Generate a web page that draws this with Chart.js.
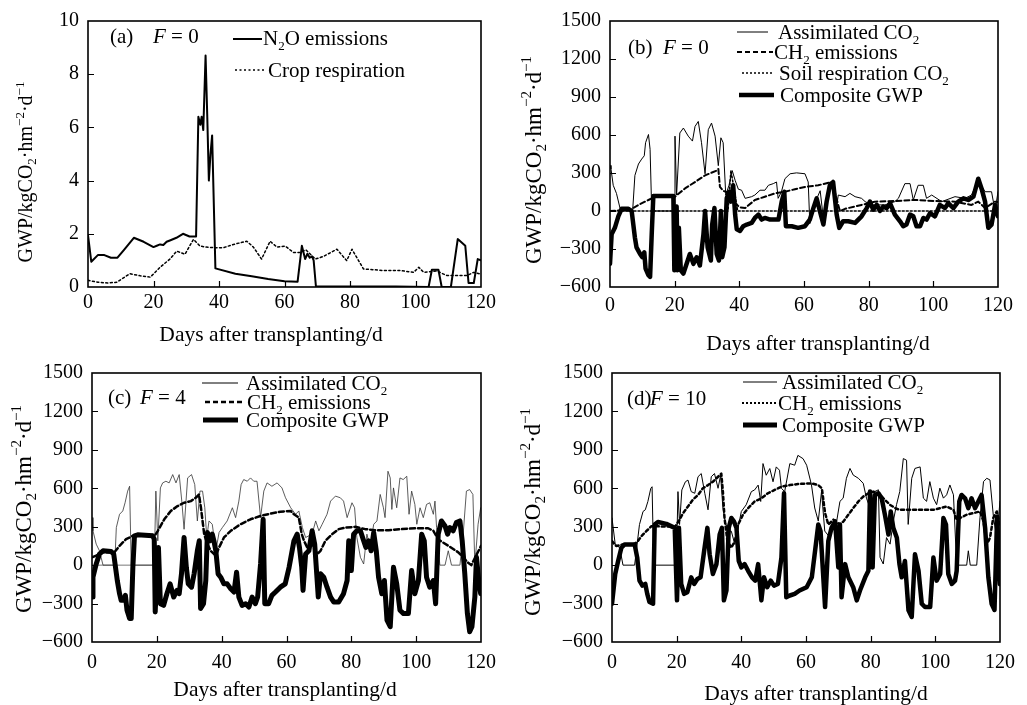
<!DOCTYPE html>
<html><head><meta charset="utf-8">
<script src="https://cdn.jsdelivr.net/npm/chart.js@4.4.0/dist/chart.umd.min.js"></script>
<style>
html,body{margin:0;padding:0;background:#fff;width:1027px;height:705px;overflow:hidden}
canvas{position:absolute}
</style></head><body>
<canvas id="ca"></canvas><canvas id="cb"></canvas><canvas id="cc"></canvas><canvas id="cd"></canvas>
<script>
// ---------------- DATA: [day, value] ----------------
const xTicks = [0,20,40,60,80,100,120];
// (a) F = 0
const aN2O = [[0,1.95],[1,0.95],[3,1.2],[5,1.2],[7,1.1],[9,1.1],[11,1.4],[14,1.85],[17,1.7],[20,1.5],[21,1.55],[22,1.6],[23,1.58],[24,1.7],[25,1.75],[27,1.85],[29,2.0],[31,1.9],[33,1.9],[33.7,6.4],[34.3,6.1],[34.7,6.4],[35.2,5.9],[35.9,8.7],[36.4,6.5],[36.9,4.0],[37.4,5.0],[37.9,5.7],[38.9,0.7],[45,0.5],[50,0.4],[55,0.3],[60,0.22],[64,0.2],[65.3,1.55],[66.3,1.05],[67,1.25],[67.7,1.1],[68.4,1.15],[68.9,1.0],[69.6,0.02],[94,0.02],[104,0],[105,0.65],[107,0.65],[108,0],[110.8,0],[112.9,1.8],[115.2,1.55],[116.2,0.15],[117.8,0.15],[119,1.05],[120,1.0]];
const aCrop = [[0,0.25],[3,0.18],[6,0.15],[8.8,0.18],[12.8,0.5],[16,0.42],[19,0.37],[22,0.74],[25,1.05],[27.1,1.35],[29.6,1.23],[32.2,1.79],[34.2,1.54],[36,1.5],[38.3,1.48],[41.4,1.48],[44.4,1.6],[48.5,1.72],[50.5,1.5],[53,1.05],[55.6,1.72],[57.7,1.5],[60.2,1.54],[62.7,1.3],[64.8,1.3],[66.5,1.4],[69.4,1.05],[71.9,1.15],[76,1.42],[79,0.99],[80.6,1.42],[82.1,1.1],[84.1,0.68],[90.2,0.62],[95.3,0.62],[99.4,0.55],[101,0.74],[102.5,0.55],[106.5,0.6],[109.6,0.43],[113.7,0.43],[115.7,0.43],[117.8,0.55],[119.8,0.49]];
// (b) F = 0
const bAssim = [[0,360],[0.3,332],[1,203],[2,139],[3.1,22],[3.3,0],[7,0],[7.7,281],[8.8,371],[9.8,410],[10.6,436],[11,539],[11.9,604],[12.4,487],[12.9,0],[19.8,0],[20.1,591],[20.6,126],[21.6,616],[22.7,655],[24.2,591],[25.5,552],[26.3,668],[27.3,707],[28.3,539],[29.4,294],[30.4,642],[31.4,694],[32.5,591],[33.5,358],[34.3,578],[35,539],[35.8,126],[36.8,203],[37.8,319],[38.7,242],[39.7,172],[40.7,164],[41.8,100],[43.8,113],[44.8,126],[46.4,164],[47.9,164],[49,203],[50.5,216],[51.5,229],[52,100],[53,150],[54.1,255],[55.7,294],[57.7,301],[60.3,294],[61.3,229],[61.8,-100],[63,30],[64,100],[65,160],[66,-60],[67,100],[68,230],[69,150],[70,20],[70.6,126],[72.7,113],[74.2,139],[75.8,113],[77.8,100],[78.9,74],[80.9,48],[85,48],[88.1,74],[89.2,100],[91.2,216],[92.8,216],[93.8,87],[95.3,203],[96.9,203],[97.9,100],[99.5,126],[102.6,74],[106.7,113],[109.8,100],[111.8,126],[113.9,242],[116,152],[118,152],[119.1,0],[120,152]];
const bCH = [[0,0],[6.2,10],[8.8,48],[11.9,87],[13.9,113],[20.1,113],[23.2,178],[26.3,229],[29.4,281],[33,319],[33.5,332],[34,190],[35,160],[36,150],[38,80],[40,30],[41.8,23],[44.8,87],[47.9,113],[51,139],[54.1,152],[57.2,172],[60.3,190],[64.4,203],[68.5,229],[69.5,150],[71.1,0],[72.7,17],[77.8,48],[82,74],[88.1,79],[94.3,87],[100.5,79],[106.7,74],[111.8,48],[113.9,74],[116,23],[119.1,74],[120,70]];
const bSoil = [[0,0],[36.5,0],[37.4,319],[38.2,200],[39.5,0],[120,0]];
const bGwp = [[0,-417],[0.5,-184],[1.5,-133],[2.6,-41],[3.6,17],[5.7,17],[6.7,0],[7.7,-210],[8.2,-287],[9.3,-339],[10,-365],[10.6,-326],[11,-455],[11.9,-507],[12.4,-520],[12.9,-184],[13.4,118],[19.6,118],[19.9,-468],[20.3,0],[20.6,35],[20.9,-468],[21.3,-133],[21.9,-468],[22.7,-494],[23.7,-417],[24.7,-339],[25.8,-417],[26.8,-365],[27.8,-430],[28.9,-184],[29.4,0],[30.2,-287],[31.2,-391],[31.6,-107],[32.3,23],[33,-339],[33.7,-391],[34.3,0],[34.7,-365],[35.4,-287],[36.1,100],[36.8,152],[37.4,74],[38.1,203],[38.7,-28],[39.2,-145],[40.2,-158],[41.2,-120],[42.3,-107],[43.8,-94],[44.8,-55],[45.9,-28],[46.9,-68],[47.9,-55],[49.5,-68],[51,-68],[52.1,-68],[53.1,74],[53.9,152],[54.4,-120],[56.2,-120],[58.2,-133],[60.3,-120],[61.8,-68],[62.9,23],[63.9,100],[64.9,0],[66,-107],[67,74],[68,203],[69,229],[70.1,-28],[70.9,-133],[72.1,-81],[73.7,-81],[75.8,-94],[77.8,-42],[79.4,23],[80.4,74],[81.4,10],[82.5,48],[83.5,0],[84.5,35],[85.6,23],[86.6,62],[88.1,-28],[89.7,-81],[90.7,-120],[91.7,-107],[92.8,-28],[93.8,-42],[94.8,-120],[95.9,-120],[96.9,-55],[97.9,-68],[99,-16],[100.5,-42],[102,48],[103.6,23],[104.6,62],[106.2,23],[107.7,74],[109.3,100],[110.8,87],[112.4,113],[113.9,255],[114.9,178],[116,74],[117,-133],[118,-107],[119.1,48],[120,-42]];
// (c) F = 4
const cAssim = [[0,371],[0.3,268],[1.3,164],[2.3,112],[3.4,0],[7,0],[7.5,293],[8.5,397],[9.5,423],[10.2,487],[11,578],[11.6,616],[12.1,0],[19.2,0],[19.7,578],[20.3,190],[21.1,603],[21.8,642],[22.8,655],[23.8,642],[24.9,707],[25.9,642],[26.9,707],[27.7,500],[28.4,280],[29.5,681],[30.7,707],[31.7,629],[32.5,345],[33.3,578],[34.1,578],[34.8,448],[35.4,216],[36.1,345],[37.1,319],[38.2,112],[39.2,255],[40.2,293],[41.7,345],[43.3,448],[44.3,371],[45.3,500],[46,629],[46.8,668],[47.9,655],[48.9,681],[49.9,655],[50.9,655],[52,371],[53,578],[54,642],[55.5,616],[57.1,642],[58.6,603],[59.7,526],[61.3,448],[62.8,397],[63.8,423],[64.9,293],[65.9,216],[67.9,242],[69,345],[70,268],[71,319],[72.5,397],[73.6,500],[75.1,539],[76.6,526],[77.6,500],[78.7,371],[80.2,487],[81,448],[81.7,216],[82.8,61],[83.8,9],[84.8,242],[85.8,138],[86.9,319],[87.9,345],[88.9,552],[89.9,448],[90.4,371],[91.3,733],[92,681],[92.5,435],[93,603],[94,448],[95,681],[96,668],[97.1,694],[97.8,397],[98.6,578],[99.6,474],[100.2,319],[101.2,448],[102.2,371],[103.2,474],[104.2,487],[105.3,397],[105.8,500],[106.3,293],[107.3,0],[108.9,0],[109.9,112],[110.9,0],[113.5,0],[114.5,242],[115.5,578],[116.5,590],[117.5,552],[118.1,0],[119.1,319],[119.9,448]];
const cCH = [[0,61],[1.3,74],[2.9,100],[6.9,100],[8.5,151],[10.5,203],[12.6,229],[19.5,235],[20.3,268],[22.3,358],[24.3,423],[26.4,461],[28.4,487],[30.5,500],[32,526],[33,552],[33.6,450],[34.6,242],[35.6,164],[36.6,112],[38.2,74],[39.2,138],[40.7,216],[42.8,268],[45.8,319],[48.9,358],[52,384],[55,402],[58.1,417],[61.3,423],[62.3,397],[63.8,371],[64.7,242],[65.4,190],[66.4,138],[67.9,164],[69.5,87],[70.5,112],[72,190],[74.1,242],[76.1,281],[78.2,293],[81.2,299],[84.3,281],[87.4,273],[91.5,273],[95.5,281],[99.6,288],[103.7,288],[105.3,268],[106.8,200],[110,150],[113,100],[116,20],[117,0],[118,50],[120,150]];
const cZero = [[0,0],[19.2,0]];
const cGwp = [[0,-249],[0.3,-94],[1.3,9],[2.3,87],[3.4,112],[5.9,107],[6.7,87],[7.8,-120],[8.5,-223],[9,-275],[9.8,-275],[10.3,-236],[10.8,-352],[11.6,-417],[12.1,-417],[12.6,-17],[13.1,229],[14.1,237],[18.7,229],[19.2,203],[19.5,-365],[20,-68],[20.5,138],[21.1,-301],[22.1,-314],[23.1,-223],[24.1,-146],[25.2,-249],[26.2,-197],[26.9,-223],[27.6,-68],[28.4,216],[29.1,-17],[29.7,-146],[30.7,-172],[31.5,-68],[32.5,112],[33.1,190],[33.5,-339],[34.4,-301],[35.1,-120],[35.6,255],[36.4,190],[37.1,242],[37.6,190],[38.2,112],[38.9,-68],[39.7,-94],[40.7,-146],[41.7,-146],[42.8,-185],[43.8,-210],[44.6,-55],[45.3,-249],[46.3,-314],[47.4,-301],[48.4,-327],[49.4,-249],[50.4,-301],[51.1,-249],[52,9],[52.8,358],[53.3,-301],[54.5,-301],[55.5,-236],[56.6,-210],[58.1,-172],[59.6,-146],[60.8,-17],[62.3,190],[63.3,242],[64,138],[64.7,-17],[65.1,-197],[65.9,87],[66.9,112],[67.9,268],[68.7,164],[69.8,-249],[70.5,-68],[71.5,-94],[72.5,-172],[73.6,-249],[74.6,-288],[76.1,-288],[77.6,-223],[78.7,-120],[79.2,190],[80,-42],[80.7,242],[81.7,268],[82.8,268],[83.8,190],[84.5,138],[85.3,190],[86.1,112],[86.9,255],[87.7,112],[88.4,-94],[89.4,-223],[90.2,-120],[91,-430],[92,-481],[93,-17],[94,-146],[95,-352],[96.1,-378],[97.6,-378],[98.6,-42],[99.6,-223],[100.7,-120],[101.7,242],[102.5,190],[103.2,-94],[104.2,-172],[105.3,-120],[106,-301],[106.8,242],[107.8,345],[108.9,306],[109.7,242],[110.4,293],[111.4,268],[112.4,332],[113.5,345],[114.2,190],[115,-68],[115.8,-378],[116.5,-520],[117.2,-481],[118.1,-249],[118.6,61],[119.3,-120],[119.9,-223]];
// (d) F = 10
const dAssim = [[0,368],[1,162],[2.4,136],[3.4,0],[7,0],[8.5,317],[9.6,419],[10.3,432],[11.1,497],[12,600],[12.4,612],[12.9,0],[19.9,0],[20.4,574],[20.9,317],[21.6,587],[22.7,651],[23.5,664],[24.5,574],[25.6,561],[26.6,690],[27.6,715],[28.7,561],[29.7,432],[30.7,690],[31.7,715],[32.8,600],[33.6,702],[34.3,445],[35,342],[35.9,265],[36.9,265],[38,162],[39,291],[40,419],[41.5,471],[43.1,574],[44.1,587],[45.2,625],[46,497],[46.7,793],[47.7,702],[48.8,754],[49.8,651],[50.8,767],[51.8,741],[52.4,600],[53.4,574],[55,793],[56.5,780],[57.5,857],[59.1,831],[60.2,780],[61.7,626],[62.7,446],[63.8,344],[64.8,575],[65.8,266],[67.4,215],[68.4,318],[69.5,344],[70.5,498],[71.5,523],[72.5,678],[73.6,755],[74.6,703],[76.2,678],[77.7,639],[78.7,523],[79.8,446],[81.3,575],[82.4,588],[82.9,61],[83.9,9],[84.9,215],[86,164],[87,344],[88,472],[89,575],[90.1,832],[91.1,819],[91.6,318],[92.7,678],[93.7,755],[95.3,767],[96.3,523],[97.3,498],[98.3,652],[99.4,523],[100.4,472],[101.4,601],[102.5,523],[103.5,549],[104.5,626],[105.6,549],[106.6,0],[109.7,0],[110.2,112],[110.8,0],[112.8,0],[113.8,369],[114.9,652],[115.9,678],[116.9,665],[118,369],[119,215],[120,500]];
const dCH = [[0,188],[1.3,149],[3.4,162],[7,165],[8,188],[9.1,226],[10.6,265],[12.2,304],[19.5,300],[20.9,355],[22,407],[23.5,458],[25,510],[26.6,548],[28.1,600],[29.7,625],[31.2,651],[32.8,690],[33.8,715],[34.3,574],[34.8,368],[35.7,188],[36.9,136],[38,188],[39,317],[40.5,394],[42.1,445],[44.1,497],[46.2,522],[48.2,561],[50.3,587],[52.4,612],[55,625],[57.5,633],[60.6,638],[61.8,638],[63.8,625],[64.9,600],[65.9,407],[66.9,317],[68.5,355],[70.5,317],[71.6,342],[73.1,394],[74.6,445],[76.2,497],[77.7,535],[79.3,561],[80.8,574],[82.5,560],[84,520],[86,470],[88,440],[89.1,432],[94.2,432],[99.4,432],[103.5,458],[105.6,432],[106.6,355],[109.7,394],[113.8,419],[114.9,342],[115.9,162],[116.9,213],[117.9,368],[119,419],[120,317]];
const dGwp = [[0,-301],[1,-69],[1.9,33],[2.9,136],[3.9,162],[7,162],[7.8,59],[8.5,-121],[9.4,-160],[10.3,-147],[10.9,-224],[11.6,-288],[12.7,-301],[13.2,317],[14.2,337],[16.8,322],[19.4,291],[20.1,-275],[20.7,291],[21.4,-147],[22.3,-224],[23.3,-211],[24.5,-95],[25.4,-147],[26.4,-108],[27.4,-95],[28.5,111],[29.5,291],[30.2,85],[31.2,-69],[32.3,8],[33.3,239],[34,291],[34.6,-275],[35.4,-198],[36.1,291],[36.9,368],[37.7,342],[38.5,291],[39.2,33],[40,-18],[41,8],[42.1,-44],[43.3,-95],[44.3,-121],[45.2,8],[46.2,-275],[47,-95],[48,-172],[49.1,-121],[50.1,-160],[51.3,-147],[52.4,59],[53.2,561],[53.9,-250],[55,-237],[56.5,-224],[58,-198],[60.2,-172],[61.8,-95],[62.8,111],[63.8,317],[64.5,265],[65.9,-327],[66.9,188],[67.9,291],[69,342],[70,-18],[70.5,317],[71,-250],[72.1,8],[73.1,-95],[74.6,-172],[75.7,-275],[76.7,-198],[78.3,-95],[79.3,-44],[79.8,574],[80.6,-18],[81.3,548],[82.4,561],[83.4,522],[84.4,394],[85.5,239],[86.2,419],[87,291],[88.1,214],[88.9,8],[89.6,-95],[90.6,33],[91.7,-352],[92.7,-404],[93.7,85],[94.8,-44],[95.8,-301],[96.8,-327],[98.4,-327],[99.4,59],[100.4,-121],[101.5,-69],[102.5,368],[103.3,317],[104,-69],[105.1,-147],[106.1,-121],[106.6,-44],[107.4,497],[108.1,548],[109.2,522],[110.2,445],[111.2,522],[112.3,445],[113.3,497],[114.3,548],[115.4,291],[116.4,-95],[117.4,-301],[118.3,-350],[119.1,380],[120,-150]];

// ---------------- RENDERING ----------------
const SERIF = '"Liberation Serif","Times New Roman",serif';
const pts = arr => arr.map(p => ({x:p[0], y:p[1]}));
function fontFor(s,size){const sz=(s==='sub'||s==='sup')?Math.round(size*0.64):size;return (s==='i'?'italic ':'')+sz+'px '+SERIF;}
function richWidth(ctx,segs,size){let w=0;for(const [t,s] of segs){ctx.font=fontFor(s,size);w+=ctx.measureText(t).width;}return w;}
function drawRich(ctx,x,base,segs,size){
  ctx.textAlign='left';ctx.textBaseline='alphabetic';ctx.fillStyle='#000';
  let cx=x;
  for(const [t,s] of segs){ctx.font=fontFor(s,size);let dy=0;if(s==='sub')dy=size*0.24;if(s==='sup')dy=-size*0.40;ctx.fillText(t,cx,base+dy);cx+=ctx.measureText(t).width;}
}
const XT=[['Days after transplanting/d','']];
const YT=[['GWP/kgCO',''],['2','sub'],['·hm',''],['−2','sup'],['·d',''],['−1','sup']];
const T_N2O=[['N',''],['2','sub'],['O emissions','']];
const T_CROP=[['Crop respiration','']];
const T_AS=[['Assimilated CO',''],['2','sub']];
const T_CH=[['CH',''],['2','sub'],[' emissions','']];
const T_SOIL=[['Soil respiration CO',''],['2','sub']];
const T_GWP=[['Composite GWP','']];

const specs={
 ca:{left:0,top:0,W:505,H:362,area:{l:88,r:481,t:16,b:287},ymin:0,ymax:10,ystep:2,xPad:4,yPad:9,fs:20,lg:21,xs:21.5,
   xt:[271,334],yt:[25,172,20],lab:['(a)',110,'0',153,36],
   leg:[[233,262,39,2,[],T_N2O,263,38],[235,266,70,1.5,[2,2.5],T_CROP,268,70]]},
 cb:{left:505,top:0,W:522,H:362,area:{l:105,r:493,t:16,b:287},ymin:-600,ymax:1500,ystep:300,xPad:7,yPad:9,fs:20,lg:21,xs:21.5,
   xt:[313,343],yt:[28,160,23],lab:['(b)',123,'0',158,47],
   leg:[[232,263,32,1,[],T_AS,273,32],[232,268,52,2,[5,3],T_CH,269,52],[237,267,73,1.5,[2,2],T_SOIL,274,73],[234,269,95,4.5,[],T_GWP,275,95]]},
 cc:{left:0,top:352,W:505,H:353,area:{l:92,r:483,t:19,b:290},ymin:-600,ymax:1500,ystep:300,xPad:9,yPad:9,fs:20,lg:21,xs:21.5,
   xt:[285,337],yt:[23,157,23],lab:['(c)',108,'4',140,45],
   leg:[[202,238,31,1,[],T_AS,246,31],[205,245,50,2.5,[5,3],T_CH,247,50],[203,238,68,5,[],T_GWP,246,68]]},
 cd:{left:505,top:352,W:522,H:353,area:{l:107,r:495,t:18,b:290},ymin:-600,ymax:1500,ystep:300,xPad:9,yPad:9,fs:20,lg:21,xs:21.5,
   xt:[311,341],yt:[27,160,23],lab:['(d)',122,'10',145,46],
   leg:[[238,272,30,1,[],T_AS,277,30],[237,272,51,2,[2,2],T_CH,273,51],[238,272,73,5,[],T_GWP,277,73]]}
};

const deco={id:'deco',afterDraw(chart){
  const sp=specs[chart.canvas.id];const ctx=chart.ctx;const a=chart.chartArea;
  ctx.save();ctx.strokeStyle='#000';ctx.lineWidth=1.2;ctx.setLineDash([]);
  const xs=chart.scales.x, ys=chart.scales.y;
  ctx.beginPath();
  xs.ticks.forEach(t=>{if(t.value<=xs.min||t.value>=xs.max)return;const p=Math.round(xs.getPixelForValue(t.value))+0.5;ctx.moveTo(p,a.bottom);ctx.lineTo(p,a.bottom-6);});
  ys.ticks.forEach(t=>{if(t.value<=ys.min||t.value>=ys.max)return;const p=Math.round(ys.getPixelForValue(t.value))+0.5;ctx.moveTo(a.left,p);ctx.lineTo(a.left+6,p);});
  ctx.stroke();
  ctx.lineWidth=1.6;ctx.strokeRect(a.left,a.top,a.right-a.left,a.bottom-a.top);
  const fs=sp.fs, lg=sp.lg;
  // x title
  const xw=richWidth(ctx,XT,sp.xs);drawRich(ctx,sp.xt[0]-xw/2,sp.xt[1]+sp.xs*0.33,XT,sp.xs);
  // y title
  const ys2=sp.yt[2];ctx.save();ctx.translate(sp.yt[0],sp.yt[1]);ctx.rotate(-Math.PI/2);
  const yw=richWidth(ctx,YT,ys2);drawRich(ctx,-yw/2,ys2*0.33,YT,ys2);ctx.restore();
  // panel label
  const L=sp.lab;drawRich(ctx,L[1],L[4]+lg*0.33,[[L[0],'']],lg);
  drawRich(ctx,L[3],L[4]+lg*0.33,[['F','i'],[' = '+L[2],'']],lg);
  // legend
  sp.leg.forEach(r=>{
    ctx.save();ctx.lineWidth=r[3];ctx.setLineDash(r[4]);ctx.lineCap='butt';ctx.beginPath();ctx.moveTo(r[0],r[2]);ctx.lineTo(r[1],r[2]);ctx.stroke();ctx.restore();
    drawRich(ctx,r[6],r[7]+lg*0.33,r[5],lg);
  });
  ctx.restore();
}};

function line(arr,w,dash,order,color){return {data:pts(arr),borderColor:color||'#000',borderWidth:w,borderDash:dash,pointRadius:0,fill:false,tension:0,order:order,borderJoinStyle:'round',borderCapStyle:'round'};}

function build(id,datasets){
  const sp=specs[id];const cv=document.getElementById(id);
  cv.width=sp.W;cv.height=sp.H;cv.style.left=sp.left+'px';cv.style.top=sp.top+'px';
  return new Chart(cv,{type:'line',data:{datasets},
    options:{responsive:false,animation:false,devicePixelRatio:1,
      layout:{padding:{left:0,right:sp.W-sp.area.r,top:sp.area.t,bottom:0}},
      plugins:{legend:{display:false},tooltip:{enabled:false}},
      scales:{
        x:{type:'linear',min:0,max:120,afterFit:s=>{s.height=sp.H-sp.area.b;},
          afterBuildTicks:s=>{s.ticks=xTicks.map(v=>({value:v}));},
          ticks:{color:'#000',font:{family:SERIF,size:sp.fs},padding:sp.xPad,maxRotation:0,autoSkip:false},
          grid:{display:false,drawTicks:false},border:{display:false}},
        y:{type:'linear',min:sp.ymin,max:sp.ymax,afterFit:s=>{s.width=sp.area.l;},
          ticks:{stepSize:sp.ystep,color:'#000',font:{family:SERIF,size:sp.fs},padding:sp.yPad,callback:v=>v<0?'−'+Math.abs(v):String(v)},
          grid:{display:false,drawTicks:false},border:{display:false}}
      }},
    plugins:[deco]});
}

build('ca',[line(aN2O,2,[],0),line(aCrop,1.5,[2,2.5],1)]);
build('cb',[line(bGwp,4.5,[],0),line(bAssim,1,[],2),line(bCH,2,[5,3],1),line(bSoil,1.5,[2,2],3)]);
build('cc',[line(cGwp,5,[],0),line(cAssim,0.8,[],2,'#333'),line(cCH,2.5,[5,3],1),line(cZero,0.8,[],3,'#555')]);
build('cd',[line(dGwp,4.5,[],0),line(dAssim,1,[],2),line(dCH,2.5,[3,3],1)]);
</script>
</body></html>
